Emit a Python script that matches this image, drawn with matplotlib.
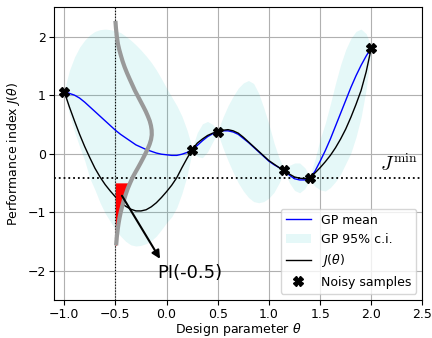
import numpy as np
import matplotlib
matplotlib.use("Agg")
import matplotlib.pyplot as plt

theta = [-1.0, -0.95, -0.9, -0.85, -0.8, -0.75, -0.7, -0.65, -0.6, -0.55,
         -0.5, -0.45, -0.4, -0.35, -0.3, -0.25, -0.2, -0.15, -0.1, -0.05,
         0.0, 0.05, 0.1, 0.15, 0.2, 0.25, 0.3, 0.35, 0.4, 0.45,
         0.5, 0.55, 0.6, 0.65, 0.7, 0.75, 0.8, 0.85, 0.9, 0.95,
         1.0, 1.05, 1.1, 1.15, 1.2, 1.25, 1.3, 1.35, 1.4, 1.45,
         1.5, 1.55, 1.6, 1.65, 1.7, 1.75, 1.8, 1.85, 1.9, 1.95, 2.0]

gp_mean = [1.06, 1.03, 1.00, 0.95, 0.88, 0.80, 0.72, 0.64, 0.56, 0.48,
           0.40, 0.33, 0.27, 0.21, 0.15, 0.11, 0.07, 0.04, 0.01, -0.01,
           -0.02, -0.03, -0.03, -0.01, 0.02, 0.07, 0.14, 0.22, 0.29, 0.34,
           0.37, 0.39, 0.39, 0.37, 0.33, 0.26, 0.19, 0.11, 0.03, -0.05,
           -0.13, -0.19, -0.24, -0.28, -0.37, -0.43, -0.45, -0.45, -0.42, -0.30,
           -0.13, 0.05, 0.25, 0.47, 0.69, 0.91, 1.13, 1.33, 1.51, 1.67, 1.81]

ci_upper = [1.08, 1.42, 1.65, 1.82, 1.94, 2.03, 2.09, 2.12, 2.13, 2.12,
            2.10, 2.07, 2.01, 1.94, 1.86, 1.77, 1.67, 1.56, 1.43, 1.28,
            1.12, 0.97, 0.82, 0.64, 0.40, 0.10, 0.36, 0.51, 0.55, 0.50,
            0.39, 0.62, 0.82, 0.98, 1.12, 1.21, 1.25, 1.20, 1.03, 0.78,
            0.50, 0.18, -0.08, -0.26, -0.20, -0.16, -0.16, -0.24, -0.38, -0.10,
            0.25, 0.52, 0.85, 1.20, 1.52, 1.78, 1.97, 2.09, 2.13, 2.05, 1.83]

ci_lower = [1.04, 0.68, 0.38, 0.12, -0.12, -0.42, -0.62, -0.84, -1.02, -1.16,
            -1.30, -1.41, -1.50, -1.56, -1.58, -1.57, -1.54, -1.49, -1.41, -1.30,
            -1.18, -1.08, -0.92, -0.68, -0.38, 0.04, -0.05, -0.07, 0.03, 0.20,
            0.35, 0.10, -0.12, -0.32, -0.50, -0.64, -0.75, -0.82, -0.84, -0.82,
            -0.76, -0.66, -0.50, -0.30, -0.50, -0.63, -0.67, -0.60, -0.45, -0.56,
            -0.62, -0.64, -0.58, -0.48, -0.35, -0.17, 0.01, 0.28, 0.62, 1.10, 1.79]

J_true = [1.06, 0.80, 0.56, 0.33, 0.12, -0.07, -0.25, -0.40, -0.53, -0.64,
          -0.74, -0.83, -0.90, -0.95, -0.98, -0.98, -0.96, -0.91, -0.84, -0.75,
          -0.65, -0.54, -0.41, -0.24, -0.08, 0.07, 0.18, 0.25, 0.31, 0.35,
          0.38, 0.40, 0.41, 0.39, 0.35, 0.28, 0.20, 0.12, 0.04, -0.04,
          -0.12, -0.18, -0.24, -0.28, -0.35, -0.40, -0.42, -0.43, -0.41, -0.33,
          -0.24, -0.14, -0.03, 0.10, 0.25, 0.42, 0.62, 0.84, 1.08, 1.40, 1.81]

# noisy samples
theta_s = [-1.0, 0.25, 0.5, 1.15, 1.4, 2.0]
J_s = [1.06, 0.07, 0.37, -0.28, -0.42, 1.81]
J_min = min(J_s)

# predictive density at theta = -0.5, drawn sideways
theta_q = -0.5
pdf_y = np.array([2.27, 2.15, 2.00, 1.88, 1.78, 1.68, 1.58, 1.48, 1.38, 1.28,
                  1.18, 1.08, 0.98, 0.88, 0.80, 0.72, 0.64, 0.56, 0.48, 0.40,
                  0.32, 0.24, 0.16, 0.08, 0.00, -0.08, -0.16, -0.24, -0.32, -0.40,
                  -0.50, -0.60, -0.70, -0.80, -0.90, -1.00, -1.10, -1.20, -1.30, -1.42,
                  -1.57])
pdf_x = np.array([-0.500, -0.495, -0.486, -0.476, -0.463, -0.447, -0.430, -0.410, -0.387, -0.362,
                  -0.336, -0.310, -0.280, -0.250, -0.226, -0.203, -0.183, -0.165, -0.153, -0.146,
                  -0.145, -0.152, -0.166, -0.185, -0.207, -0.230, -0.254, -0.279, -0.305, -0.330,
                  -0.356, -0.380, -0.400, -0.418, -0.434, -0.448, -0.460, -0.470, -0.478, -0.486,
                  -0.493])

fs = 9
fig = plt.figure(figsize=(4.32, 3.38), dpi=100)
ax = fig.add_subplot(111)
fig.subplots_adjust(left=0.125, right=0.978, top=0.978, bottom=0.113)

ax.plot(theta, gp_mean, color="b", lw=1, label="GP mean", zorder=3)
ax.fill_between(theta, ci_lower, ci_upper, color="c", alpha=0.1, lw=0,
                label="GP 95% c.i.", zorder=1)
ax.plot(theta, J_true, color="k", lw=1, label=r"$J(\theta)$", zorder=4)
ax.plot(theta_s, J_s, "X", color="k", ms=7, label="Noisy samples", zorder=6)

ax.axhline(J_min, color="k", ls=":", lw=1.3, zorder=2)
ax.axvline(theta_q, color="k", ls=":", lw=0.8, zorder=2)

ax.fill_betweenx(pdf_y, theta_q, pdf_x, where=pdf_y <= J_min, interpolate=True,
                 color="red", lw=0, zorder=4)
ax.plot(pdf_x, pdf_y, color="#999999", lw=3, zorder=5,
        solid_joinstyle="round", solid_capstyle="butt")

ax.annotate("", xy=(-0.05, -1.84), xytext=(-0.45, -0.68),
            arrowprops=dict(arrowstyle="-|>", color="k", lw=1.5, mutation_scale=12),
            zorder=7)
ax.text(-0.09, -2.05, "PI(-0.5)", fontsize=13, va="center", ha="left")
ax.text(2.08, -0.30, r"$J^{\rm min}$", math_fontfamily="cm", fontsize=14,
        va="baseline", ha="left")

ax.set_xlim(-1.1, 2.5)
ax.set_ylim(-2.5, 2.5)
ax.set_xticks([-1.0, -0.5, 0.0, 0.5, 1.0, 1.5, 2.0, 2.5])
ax.set_yticks([-2, -1, 0, 1, 2])
ax.tick_params(labelsize=fs, pad=2.5)
ax.grid(True)
ax.set_axisbelow(True)
ax.set_xlabel(r"Design parameter $\theta$", fontsize=fs, labelpad=0)
ax.set_ylabel(r"Performance index $J(\theta)$", fontsize=fs)
ax.legend(loc="lower right", fontsize=fs)

fig.savefig("out.png", dpi=100)
